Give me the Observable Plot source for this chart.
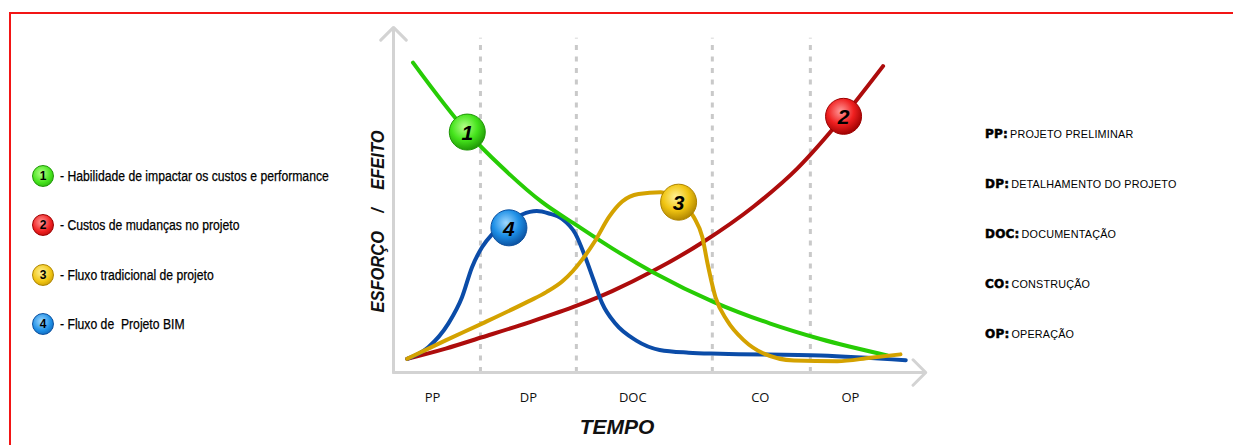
<!DOCTYPE html>
<html><head><meta charset="utf-8">
<script src="https://cdn.jsdelivr.net/npm/d3@7"></script>
<script src="https://cdn.jsdelivr.net/npm/@observablehq/plot@0.6"></script>
<style>
html,body{margin:0;padding:0;background:#fff;overflow:hidden}
#wrap{position:relative;width:1233px;height:445px;overflow:hidden;font-family:"Liberation Sans",Arial,sans-serif;color:#000}
#frame{position:absolute;left:9px;top:12px;width:1400px;height:600px;border:2px solid #f21515;box-sizing:border-box}
#chart{position:absolute;left:0;top:0}
#left{position:absolute;left:32px;top:165px}
#left .row{height:22px;margin-bottom:27.3px;display:flex;align-items:center;white-space:nowrap}
#left .ball{width:22px;height:22px;border-radius:50%;display:flex;align-items:center;justify-content:center;font:bold 12px "Liberation Sans",Arial,sans-serif;color:#000;box-sizing:border-box}
#left .txt{margin-left:6px;font-size:14px;transform:scaleX(0.87);transform-origin:left center;display:inline-block;-webkit-text-stroke:0.25px #000}
#right{position:absolute;left:985px;top:127px}
#right .row{height:14px;margin-bottom:36px;display:flex;align-items:center;white-space:nowrap}
#right b{font:bold 12px "DejaVu Sans",sans-serif;letter-spacing:0.2px;margin-right:2px;-webkit-text-stroke:0.5px #000}
#right span{font-size:10.8px;letter-spacing:0.2px}
</style></head>
<body>
<div id="wrap">
  <div id="frame"></div>
  <div id="chart"></div>
  <div id="left"></div>
  <div id="right"></div>
</div>
<script>
// ---- data ----
const phases = ["PP", "DP", "DOC", "CO", "OP"];
const phaseLabelX = [0.74, 2.56, 4.54, 6.96, 8.67];
const phaseBounds = [1.65, 3.47, 6.05, 7.91];

// 1 - Habilidade de impactar os custos e performance
const habilidade = [[0.37,90.6],[1.40,70.3],[2.06,60.0],[2.82,49.8],[3.45,43.3],[4.15,36.3],[4.94,29.2],[6.08,20.6],[7.15,14.3],[8.10,9.8],[9.37,5.0]];
// 2 - Custos de mudanças no projeto
const custos = [[0.26,4.0],[0.99,7.0],[1.68,10.3],[2.56,14.6],[3.49,19.6],[4.15,23.8],[4.94,29.8],[5.89,38.3],[6.84,48.6],[7.66,59.6],[8.54,74.9],[9.29,89.6]];
// 3 - Fluxo tradicional de projeto
const tradicional = [[0.26,4.0],[0.99,9.4],[1.68,14.3],[2.56,20.8],[2.90,23.5],[3.20,26.6],[3.40,29.6],[3.58,33.0],[3.83,38.6],[4.09,45.5],[4.34,50.0],[4.65,52.2],[5.07,52.7],[5.41,49.8],[5.70,45.4],[5.86,39.6],[5.96,31.8],[6.11,22.0],[6.33,15.2],[6.65,9.4],[7.03,5.5],[7.60,3.5],[8.42,3.3],[9.05,4.3],[9.62,5.3]];
// 4 - Fluxo de Projeto BIM
const bim = [[0.26,4.0],[0.66,7.4],[1.04,14.3],[1.30,22.0],[1.49,30.8],[1.68,36.6],[1.87,40.4],[2.19,43.9],[2.44,46.2],[2.72,47.2],[2.95,46.5],[3.20,44.9],[3.45,40.6],[3.64,33.7],[3.80,26.9],[3.96,20.2],[4.21,14.3],[4.60,9.4],[5.05,6.6],[5.60,5.8],[6.20,5.5],[8.10,5.0],[9.72,3.6]];

const seriesNames = ["1","2","3","4"];
const seriesLabels = ["- Habilidade de impactar os custos e performance","- Custos de mudanças no projeto","- Fluxo tradicional de projeto","- Fluxo de  Projeto BIM"];
const lineColors = ["#27cc05","#ad0c0c","#d4a200","#0b4ca8"];
const ballLight = ["#b4ff8a","#ff9a9a","#fff29a","#9fd8ff"];
const ballMid = ["#45e41c","#f02020","#f1c512","#1d8fe6"];
const ballDark = ["#1f9606","#9c0000","#ae8400","#0b4f9e"];
const ballX = [1.40, 8.54, 5.41, 2.19];
const ballY = [70.3, 74.9, 49.8, 42.3];

const abbrev = ["PP:", "DP:", "DOC:", "CO:", "OP:"];
const abbrevText = ["PROJETO PRELIMINAR","DETALHAMENTO DO PROJETO","DOCUMENTAÇÃO","CONSTRUÇÃO","OPERAÇÃO"];
const xTitle = "TEMPO";
const yTitle = "ESFORÇO\u00A0\u00A0\u00A0\u00A0/\u00A0\u00A0\u00A0\u00A0EFEITO";

// ---- build ----
const toRows = (arr, s) => arr.map(([x, y]) => ({x, y, s}));
const curves = [habilidade, custos, tradicional, bim];
const drawOrder = [1, 3, 0, 2]; // red, blue, green, yellow
const balls = seriesNames.map((n, i) => ({n, x: ballX[i], y: ballY[i], i}));

const axisColor = "#d3d3d3";
const fontB = "Liberation Sans, Arial, sans-serif";
const marks = [
  Plot.ruleX(phaseBounds, {y1: 0, y2: 97.7, stroke: "#c9c9c9", strokeWidth: 3, strokeDasharray: "5,6.5"}),
  Plot.arrow([{x1: 0, y1: 0, x2: 0, y2: 100.9}], {x1: "x1", y1: "y1", x2: "x2", y2: "y2", stroke: axisColor, strokeWidth: 3, headAngle: 90, headLength: 9}),
  Plot.arrow([{x1: 0, y1: 0, x2: 10.1, y2: 0}], {x1: "x1", y1: "y1", x2: "x2", y2: "y2", stroke: axisColor, strokeWidth: 3, headAngle: 90, headLength: 9}),
  ...drawOrder.map(i => Plot.line(toRows(curves[i], i), {x: "x", y: "y", stroke: lineColors[i], strokeWidth: 4, curve: "monotone-x", strokeLinecap: "round"})),
  ...balls.map(b => Plot.dot([b], {x: "x", y: "y", r: 18, fill: `url(#ball${b.i})`, stroke: ballDark[b.i], strokeWidth: 1})),
  Plot.text(balls, {x: "x", y: "y", text: "n", dy: 1, fontSize: 21, fontWeight: "bold", fontStyle: "italic", fill: "#000", fontFamily: fontB}),
  Plot.text(phases, {x: (d, i) => phaseLabelX[i], y: 0, text: d => d, dy: 25, fontSize: 13, fill: "#111", fontFamily: "Open Sans, sans-serif"}),
  Plot.text([xTitle], {frameAnchor: "bottom", dx: -40, dy: 61, fontSize: 21, fontWeight: "bold", fontStyle: "italic", fill: "#111", fontFamily: fontB}),
  Plot.text([yTitle], {frameAnchor: "left", textAnchor: "middle", rotate: -90, dx: -16, dy: 20, fontSize: 19.2, fontWeight: "bold", fontStyle: "italic", fill: "#111", fontFamily: fontB})
];

const chart = Plot.plot({
  width: 1233, height: 445,
  marginLeft: 393, marginRight: 313, marginTop: 30, marginBottom: 73,
  x: {domain: [0, 10], axis: null},
  y: {domain: [0, 100], axis: null},
  style: {background: "transparent", overflow: "visible"},
  marks
});

// condense the vertical title glyphs (taller, narrower lettering as in the reference)
d3.select(chart).selectAll("text")
  .filter(function() { return (this.textContent || "").includes("EFEITO"); })
  .each(function() {
    let el = this;
    for (let k = 0; k < 3 && el; k++) {
      const t = el.getAttribute && el.getAttribute("transform");
      if (t && t.includes("rotate")) { el.setAttribute("transform", t + " scale(0.86,1)"); break; }
      el = el.parentNode;
    }
  });

const defs = d3.select(chart).insert("defs", ":first-child");
seriesNames.forEach((n, i) => {
  const g = defs.append("radialGradient").attr("id", `ball${i}`).attr("cx", "42%").attr("cy", "36%").attr("r", "66%");
  g.append("stop").attr("offset", "0%").attr("stop-color", ballLight[i]);
  g.append("stop").attr("offset", "55%").attr("stop-color", ballMid[i]);
  g.append("stop").attr("offset", "100%").attr("stop-color", ballDark[i]);
});
document.getElementById("chart").appendChild(chart);

// legends
const left = d3.select("#left");
seriesNames.forEach((n, i) => {
  const row = left.append("div").attr("class", "row");
  row.append("div").attr("class", "ball")
    .style("background", `radial-gradient(circle at 42% 36%, ${ballLight[i]} 0%, ${ballMid[i]} 55%, ${ballDark[i]} 100%)`)
    .style("border", `1px solid ${ballDark[i]}`)
    .text(n);
  row.append("div").attr("class", "txt").style("white-space", "pre").text(seriesLabels[i]);
});
const right = d3.select("#right");
abbrev.forEach((a, i) => {
  const row = right.append("div").attr("class", "row");
  row.append("b").text(a);
  row.append("span").text(abbrevText[i]);
});
</script>
</body></html>
